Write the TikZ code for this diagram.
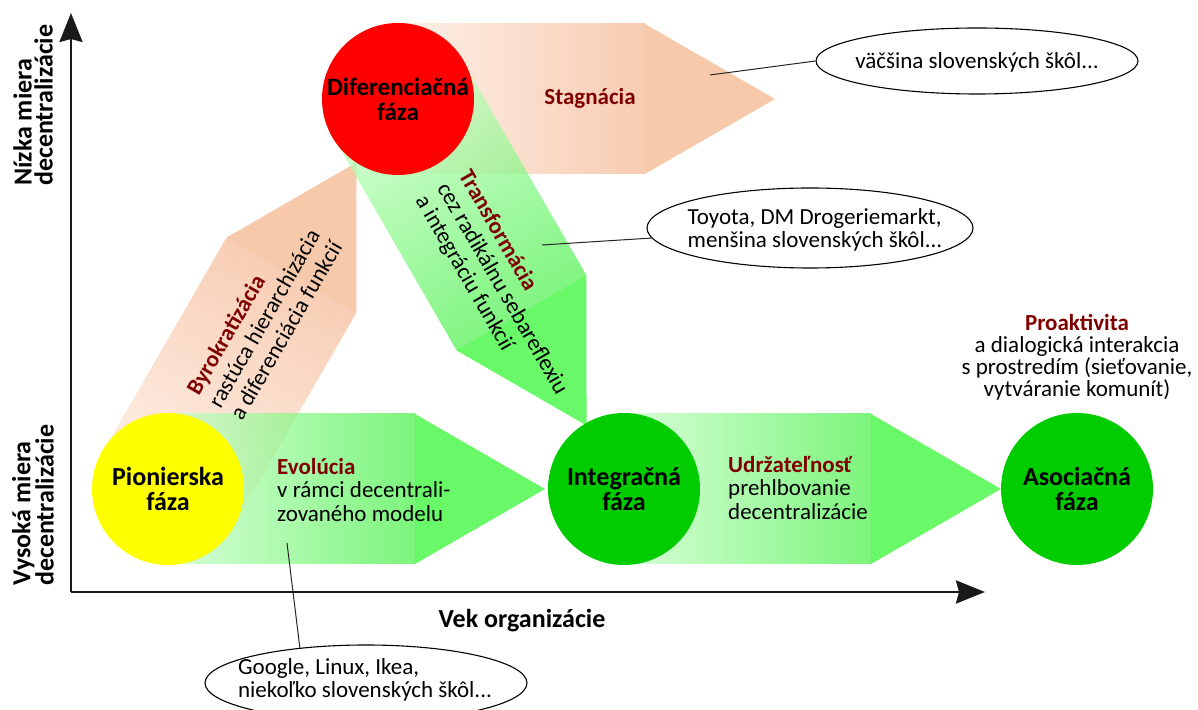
\documentclass[tikz,border=0pt]{standalone}
\usepackage{fontspec}
\setmainfont{Carlito}
\usetikzlibrary{arrows.meta,shapes.geometric}
\definecolor{dred}{RGB}{128,0,0}
\definecolor{gpale}{RGB}{200,255,200}
\definecolor{gmid}{RGB}{69,241,69}
\definecolor{ghead}{RGB}{41,246,41}
\definecolor{ppale}{RGB}{253,235,222}
\definecolor{pmid}{RGB}{245,183,145}
\definecolor{phead}{RGB}{245,179,136}
\definecolor{cyellow}{RGB}{255,255,0}
\definecolor{cred}{RGB}{255,0,0}
\definecolor{cgreen}{RGB}{0,204,0}
\newcommand{\hlt}[1]{{\bfseries\color{dred}#1}}
\newcommand{\threedots}{.\kern0pt.\kern0pt.}
\newcommand{\phasearrow}[6]{%
  \pgfmathsetmacro{\myshang}{#3-90}%
  \begin{scope}[shift={(#1,#2)}, rotate=#3]
    \path[bottom color=#4, top color=#5, shading angle=\myshang, fill opacity=0.7] (0,-75) rectangle (247,75);
    \path[fill=#6, fill opacity=0.7] (247,-75) -- (377,0) -- (247,75) -- cycle;
  \end{scope}}
\tikzset{
  phase/.style={circle, minimum size=152pt, inner sep=0pt, align=center,
    font=\fontsize{26}{25.5}\selectfont\bfseries},
  body/.style={inner sep=0pt, font=\fontsize{23}{23.5}\selectfont},
  rotbody/.style={inner sep=0pt, align=left, font=\fontsize{23}{25}\selectfont},
  axlab/.style={inner sep=0pt, font=\fontsize{26}{21}\selectfont\bfseries},
  callout/.style={ellipse, draw=black, line width=1.1pt, inner sep=0pt},
  calline/.style={draw=black!85, line width=1pt},
  axisline/.style={line width=2.5pt, draw=black!90, -{Stealth[length=29pt, width=23pt, inset=3pt]}}
}
\begin{document}
\begin{tikzpicture}[x=1pt, y=1pt]
\useasboundingbox (0,0) rectangle (1198,709);
\clip (0,0) rectangle (1198,709);
\fill[white] (0,0) rectangle (1198,709);

% arrows (peach first, then green)
\phasearrow{398}{610}{0}{ppale}{pmid}{phead}
\phasearrow{168}{220}{60}{ppale}{pmid}{phead}
\phasearrow{168}{220}{0}{gpale}{gmid}{ghead}
\phasearrow{624}{220}{0}{gpale}{gmid}{ghead}
\phasearrow{398}{610}{-60}{gpale}{gmid}{ghead}

% phases
\node[phase, fill=cyellow] (pion) at (168,220) {Pionierska\\fáza};
\node[phase, fill=cred, font=\fontsize{25}{25}\selectfont\bfseries] (dif) at (398,610) {Diferenciačná\\fáza};
\node[phase, fill=cgreen] (integ) at (624,220) {Integračná\\fáza};
\node[phase, fill=cgreen] (asoc) at (1077,220) {Asociačná\\fáza};

% arrow texts
\node[body] (stag) at (590,611) {\hlt{Stagnácia}};
\node[body, anchor=west, align=left] (evol) at (277,219) {\hlt{Evolúcia}\\v rámci decentrali-\\zovaného modelu};
\node[body, anchor=west, align=left] (udrz) at (728,221) {\hlt{Udržateľnosť}\\prehlbovanie\\decentralizácie};
\node[rotbody, rotate=60] (byro) at (264,391) {\hlt{Byrokratizácia}\\rastúca hierarchizácia\\a diferenciácia funkcií};
\node[rotbody, rotate=-60] (trans) at (502,420) {\hlt{Transformácia}\\cez radikálnu sebareflexiu\\a integráciu funkcií};
\node[body, align=center, font=\fontsize{23}{22}\selectfont] (proak) at (1077,352) {\hlt{Proaktivita}\\a dialogická interakcia\\s prostredím (sieťovanie,\\vytváranie komunít)};

% callouts
\node[callout, minimum width=322pt, minimum height=66pt] (e1) at (977,648) {};
\node[body] (e1t) at (977,647) {väčšina slovenských škôl\threedots};
\node[callout, minimum width=326pt, minimum height=80pt] (e2) at (810,481) {};
\node[body, align=left] (e2t) at (815,479) {Toyota, DM Drogeriemarkt,\\menšina slovenských škôl\threedots};
\node[callout, minimum width=322pt, minimum height=76pt] (e3) at (366,26) {};
\node[body, align=left] (e3t) at (365,29) {Google, Linux, Ikea,\\niekoľko slovenských škôl\threedots};
\coordinate (c1) at (710,634);
\coordinate (c2) at (542,464);
\coordinate (c3) at (287,166);
\draw[calline] (c1) -- (e1.west);
\draw[calline] (c2) -- (e2);
\draw[calline] (c3) -- (e3.152);

% axes
\coordinate (O) at (71,117);
\coordinate (ytip) at (71,696);
\coordinate (xtip) at (985,117);
\draw[axisline] (O) -- (ytip);
\draw[axisline] (O) -- (xtip);
\node[axlab, rotate=90, anchor=west, align=left] (ylow) at (33,523) {Nízka miera\\decentralizácie};
\node[axlab, rotate=90, anchor=west, align=left] (yhigh) at (33,123) {Vysoká miera\\decentralizácie};
\node[axlab] (xlab) at (522,88) {Vek organizácie};
\end{tikzpicture}
\end{document}
